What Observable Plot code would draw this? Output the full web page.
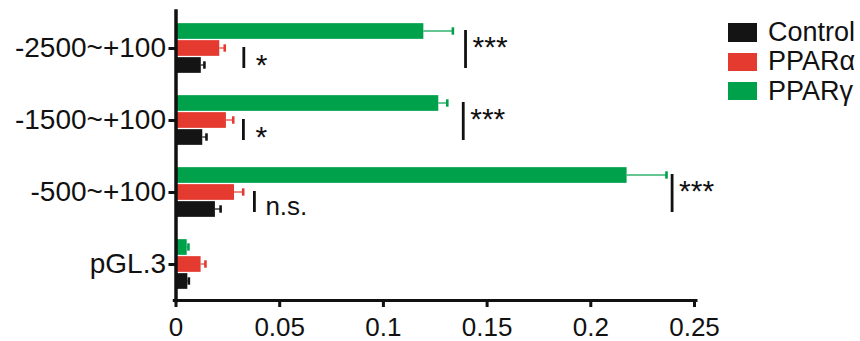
<!DOCTYPE html>
<html>
<head>
<meta charset="utf-8">
<script src="https://cdn.jsdelivr.net/npm/d3@7"></script>
<script src="https://cdn.jsdelivr.net/npm/@observablehq/plot@0.6"></script>
<style>
  html, body { margin: 0; padding: 0; background: #fff; }
  #wrap { position: relative; width: 860px; height: 341px; font-family: "Liberation Sans", Arial, sans-serif; }
  #legend { position: absolute; left: 728px; top: 17.8px; }
  .row { display: flex; align-items: center; height: 29.4px; }
  .sw { width: 28.5px; height: 18.4px; margin-right: 11.5px; }
  .lab { font-size: 27px; color: #111; line-height: 1; }
</style>
</head>
<body>
<div id="wrap"><div id="legend"></div></div>
<script>
// ---- data ----
const categories = ["-2500~+100", "-1500~+100", "-500~+100", "pGL.3"];
const series = ["Control", "PPARα", "PPARγ"];
const seriesOrder = ["PPARγ", "PPARα", "Control"]; // top to bottom within a group
const colors = ["#141414", "#e53a2f", "#00a14b"];

const controlMean = [0.0122, 0.0129, 0.0190, 0.0057];
const controlErr  = [0.0015, 0.0018, 0.0025, 0.0005];
const pparAMean   = [0.0211, 0.0243, 0.0282, 0.0121];
const pparAErr    = [0.0024, 0.0033, 0.0042, 0.0021];
const pparGMean   = [0.1195, 0.1267, 0.2175, 0.0054];
const pparGErr    = [0.0140, 0.0041, 0.0190, 0.0006];

const xTicks = [0, 0.05, 0.1, 0.15, 0.2, 0.25];

const sigCategory = ["-2500~+100", "-2500~+100", "-1500~+100", "-1500~+100", "-500~+100", "-500~+100"];
const sigX        = [0.0327, 0.1396, 0.0325, 0.1385, 0.0378, 0.2392];
const sigFrom     = ["PPARα", "PPARγ", "PPARα", "PPARγ", "PPARα", "PPARγ"];
const sigTo       = ["Control", "Control", "Control", "Control", "Control", "Control"];
const sigLabel    = ["*", "***", "*", "***", "n.s.", "***"];

// ---- tables ----
const means = {"Control": controlMean, "PPARα": pparAMean, "PPARγ": pparGMean};
const errs  = {"Control": controlErr,  "PPARα": pparAErr,  "PPARγ": pparGErr};
const rows = categories.flatMap((c, i) => series.map(s => ({
  category: c, series: s, mean: means[s][i], hi: means[s][i] + errs[s][i]
})));
const sig = sigX.map((x, i) => ({category: sigCategory[i], x, from: sigFrom[i], to: sigTo[i], label: sigLabel[i]}));

const font = '"Liberation Sans", Arial, sans-serif';

const chart = Plot.plot({
  width: 860,
  height: 341,
  marginLeft: 175.5,
  marginRight: 166,
  marginTop: 11.5,
  marginBottom: 41,
  style: {fontFamily: font, color: "#111", background: "transparent", overflow: "visible"},
  x: {domain: [0, 0.25], axis: null},
  y: {domain: seriesOrder, paddingInner: 0, paddingOuter: 0.53, axis: null},
  fy: {domain: categories, padding: 0, axis: null, label: null},
  color: {domain: series, range: colors},
  marks: [
    Plot.barX(rows, {x1: 0, x2: "mean", y: "series", fy: "category", fill: "series", insetTop: 0.65, insetBottom: 0.65}),
    Plot.barX(rows, {x1: "mean", x2: "hi", y: "series", fy: "category", fill: "series", insetTop: 7.9, insetBottom: 7.9}),
    Plot.tickX(rows, {x: "hi", y: "series", fy: "category", stroke: "series", strokeWidth: 2.6, insetTop: 4.8, insetBottom: 4.8}),
    Plot.ruleX(sig, {x: "x", y1: "from", y2: "to", fy: "category", stroke: "#111", strokeWidth: 2.8, insetTop: 7.5, insetBottom: 5.5}),
    Plot.text(sig.filter(d => d.label === "***"), {x: "x", y: "from", fy: "category", text: "label", textAnchor: "start", dx: 7, dy: 15.5, fontSize: 30, fill: "#111", letterSpacing: 1.5}),
    Plot.text(sig.filter(d => d.label === "*"), {x: "x", y: "to", fy: "category", text: "label", textAnchor: "start", dx: 12, dy: -0.5, fontSize: 30, fill: "#111"}),
    Plot.text(sig.filter(d => d.label === "n.s."), {x: "x", y: "to", fy: "category", text: "label", textAnchor: "start", dx: 11, dy: -3, fontSize: 26, fill: "#111"}),
    Plot.frame({anchor: "left", stroke: "#111", strokeWidth: 3.5, facet: "super", insetTop: -1.5}),
    Plot.frame({anchor: "bottom", stroke: "#111", strokeWidth: 3, facet: "super", insetLeft: -1.75, insetRight: -1.5}),
    Plot.axisFy({anchor: "left", tickSize: 7, tickPadding: 3, fontSize: 28, strokeWidth: 3, label: null, stroke: "#111", fill: "#111"}),
    Plot.axisX({anchor: "bottom", ticks: xTicks, tickFormat: d => String(d), tickSize: 7, tickPadding: 10, fontSize: 26, strokeWidth: 3, label: null, stroke: "#111", fill: "#111"})
  ]
});
document.getElementById("wrap").prepend(chart);

// ---- legend ----
const legend = document.getElementById("legend");
series.forEach((s, i) => {
  const row = document.createElement("div");
  row.className = "row";
  const sw = document.createElement("div");
  sw.className = "sw";
  sw.style.background = colors[i];
  const lab = document.createElement("span");
  lab.className = "lab";
  lab.textContent = s;
  row.append(sw, lab);
  legend.append(row);
});
</script>
</body>
</html>
